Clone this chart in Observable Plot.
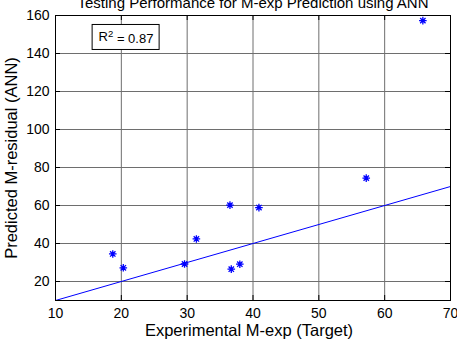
<!DOCTYPE html>
<html>
<head>
<meta charset="utf-8">
<script src="https://cdn.jsdelivr.net/npm/d3@7"></script>
<script src="https://cdn.jsdelivr.net/npm/@observablehq/plot@0.6"></script>
<style>
  body { margin: 0; background: #fff; }
  svg { font-family: "Liberation Sans", Arial, sans-serif; }
</style>
</head>
<body>
<div id="chart"></div>
<script>
// Testing set: experimental M-exp vs ANN-predicted M-residual
const experimental = [18.7, 20.3, 29.6, 31.4, 36.5, 36.7, 38.0, 40.9, 57.2, 65.8];
const predicted    = [34.5, 27.2, 29.2, 42.4, 60.2, 26.5, 29.1, 58.9, 74.4, 157.3];

// Fitted line end points (x, y)
const fitX = [10, 70];
const fitY = [10, 70];

const xTicks = [10, 20, 30, 40, 50, 60, 70];
const yTicks = [20, 40, 60, 80, 100, 120, 140, 160];

const titleText = "Testing Performance for M-exp Prediction using ANN";
const xLabel = "Experimental M-exp (Target)";
const yLabel = "Predicted M-residual (ANN)";
const r2Value = "0.87";
const r2Pos = { x: 16.55, y: 148.7 };

const points = experimental.map((x, i) => ({ x, y: predicted[i] }));
const fit = fitX.map((x, i) => ({ x, y: fitY[i] }));

// Eight-spoke star marker (+ and x combined)
const star8 = {
  draw(context, size) {
    const r = Math.sqrt(size / Math.PI);
    const d = r * Math.SQRT1_2;
    context.moveTo(-r, 0); context.lineTo(r, 0);
    context.moveTo(0, -r); context.lineTo(0, r);
    context.moveTo(-d, -d); context.lineTo(d, d);
    context.moveTo(-d, d); context.lineTo(d, -d);
  }
};

const W = 457, H = 346, mL = 55, mR = 7, mT = 15, mB = 46;
const fw = W - mL - mR, fh = H - mT - mB;
const tick = 5;

const chart = Plot.plot({
  width: W,
  height: H,
  marginLeft: mL,
  marginRight: mR,
  marginTop: mT,
  marginBottom: mB,
  style: { fontFamily: "Liberation Sans, Arial, sans-serif", background: "#fff" },
  x: { domain: [10, 70] },
  y: { domain: [10, 160] },
  marks: [
    Plot.gridX(xTicks, { stroke: "#6e6e6e", strokeOpacity: 1, strokeWidth: 1 }),
    Plot.gridY(yTicks, { stroke: "#6e6e6e", strokeOpacity: 1, strokeWidth: 1 }),
    // inward tick marks on all four sides
    Plot.ruleX(xTicks, { stroke: "#000", insetTop: fh - tick }),
    Plot.ruleX(xTicks, { stroke: "#000", insetBottom: fh - tick }),
    Plot.ruleY(yTicks, { stroke: "#000", insetRight: fw - tick }),
    Plot.ruleY(yTicks, { stroke: "#000", insetLeft: fw - tick }),
    Plot.line(fit, { x: "x", y: "y", stroke: "#0000ff", strokeWidth: 1 }),
    Plot.dot(points, { x: "x", y: "y", symbol: star8, r: 3.8, stroke: "#0000ff", strokeWidth: 1.3 }),
    Plot.frame({ stroke: "#000", strokeWidth: 1 }),
    Plot.axisX(xTicks, { tickSize: 0, tickPadding: 8, fontSize: 14, label: null, fill: "#000" }),
    Plot.axisY(yTicks, { tickSize: 0, tickPadding: 6, fontSize: 14, label: null, fill: "#000" }),
    Plot.text([xLabel], { frameAnchor: "bottom", lineAnchor: "middle", dx: -4, dy: 30, fontSize: 16.5, fill: "#000" }),
    Plot.text([yLabel], { frameAnchor: "left", textAnchor: "middle", lineAnchor: "middle", dx: -44, rotate: -90, fontSize: 16.5, fill: "#000" }),
    Plot.text([titleText], { frameAnchor: "top", lineAnchor: "middle", dy: -12.8, fontSize: 15, fill: "#000" }),
    Plot.text(["R2 = " + r2Value], { x: () => r2Pos.x, y: () => r2Pos.y, textAnchor: "start", lineAnchor: "middle", fontSize: 13, fill: "#000", className: "r2" })
  ]
});

document.getElementById("chart").appendChild(chart);

// R² annotation: superscript exponent and a boxed background
const r2 = d3.select(chart).select("g.r2 text");
if (!r2.empty()) {
  r2.text(null);
  r2.append("tspan").text("R");
  r2.append("tspan").attr("dy", "-0.45em").attr("font-size", "9.5").text("2");
  r2.append("tspan").attr("dy", "0.45em").text(" = " + r2Value);
  const b = r2.node().getBBox();
  const t = r2.attr("transform");
  d3.select(r2.node().parentNode).insert("rect", "text")
    .attr("transform", t)
    .attr("x", b.x - 6.5).attr("y", -12.5)
    .attr("width", 67).attr("height", 25)
    .attr("fill", "#fff").attr("stroke", "#000").attr("stroke-width", 1);
}
</script>
</body>
</html>
